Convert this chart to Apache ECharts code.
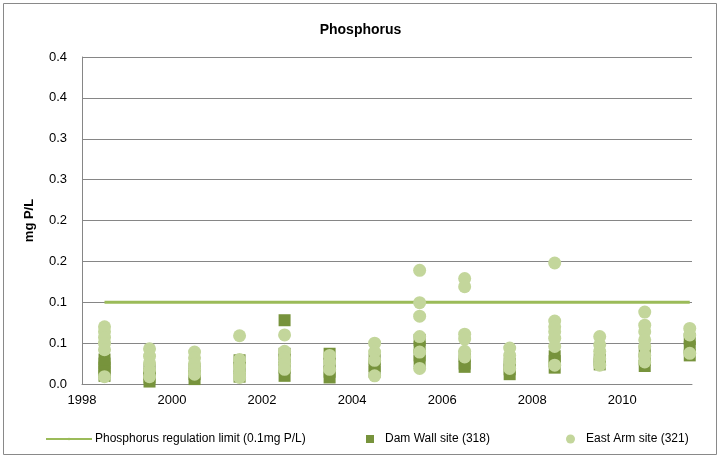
<!DOCTYPE html>
<html>
<head>
<meta charset="utf-8">
<script src="https://cdn.jsdelivr.net/npm/echarts@6/dist/echarts.min.js"></script>
<style>
  html, body { margin: 0; padding: 0; background: #fff; }
  #chart { width: 721px; height: 459px; }
</style>
</head>
<body>
<div id="chart"></div>
<script>
// sample years (x) and values (mg P/L)
const limitX = [1998.5, 2011.5];
const limitY = [0.1, 0.1];

const damX = [
  1998.5, 1998.5, 1998.5, 1998.5, 1998.5,
  1999.5, 1999.5, 1999.5, 1999.5,
  2000.5, 2000.5, 2000.5,
  2001.5, 2001.5, 2001.5,
  2002.5, 2002.5, 2002.5, 2002.5, 2002.5,
  2003.5, 2003.5, 2003.5, 2003.5,
  2004.5, 2004.5, 2004.5,
  2005.5, 2005.5, 2005.5, 2005.5,
  2006.5, 2006.5, 2006.5,
  2007.5, 2007.5, 2007.5,
  2008.5, 2008.5, 2008.5,
  2009.5, 2009.5,
  2010.5, 2010.5, 2010.5,
  2011.5, 2011.5, 2011.5
];
const damY = [
  0.010, 0.015, 0.020, 0.025, 0.030,
  0.003, 0.008, 0.012, 0.018,
  0.006, 0.012, 0.018,
  0.009, 0.020, 0.029,
  0.078, 0.037, 0.030, 0.020, 0.010,
  0.037, 0.025, 0.015, 0.008,
  0.030, 0.022, 0.015,
  0.054, 0.045, 0.035, 0.028,
  0.034, 0.025, 0.021,
  0.025, 0.018, 0.012,
  0.034, 0.028, 0.020,
  0.024, 0.030,
  0.022, 0.030, 0.040,
  0.055, 0.045, 0.035
];

const eastX = [
  1998.5, 1998.5, 1998.5, 1998.5, 1998.5, 1998.5,
  1999.5, 1999.5, 1999.5, 1999.5, 1999.5,
  2000.5, 2000.5, 2000.5, 2000.5, 2000.5,
  2001.5, 2001.5, 2001.5, 2001.5, 2001.5,
  2002.5, 2002.5, 2002.5, 2002.5, 2002.5,
  2003.5, 2003.5, 2003.5,
  2004.5, 2004.5, 2004.5, 2004.5,
  2005.5, 2005.5, 2005.5, 2005.5, 2005.5, 2005.5,
  2006.5, 2006.5, 2006.5, 2006.5, 2006.5, 2006.5,
  2007.5, 2007.5, 2007.5, 2007.5,
  2008.5, 2008.5, 2008.5, 2008.5, 2008.5, 2008.5, 2008.5,
  2009.5, 2009.5, 2009.5, 2009.5, 2009.5,
  2010.5, 2010.5, 2010.5, 2010.5, 2010.5, 2010.5, 2010.5,
  2011.5, 2011.5, 2011.5
];
const eastY = [
  0.070, 0.064, 0.057, 0.050, 0.042, 0.009,
  0.043, 0.034, 0.026, 0.017, 0.009,
  0.039, 0.032, 0.025, 0.018, 0.012,
  0.059, 0.030, 0.022, 0.014, 0.008,
  0.060, 0.040, 0.032, 0.025, 0.018,
  0.035, 0.027, 0.018,
  0.050, 0.039, 0.029, 0.010,
  0.139, 0.0995, 0.083, 0.058, 0.039, 0.019,
  0.129, 0.119, 0.061, 0.055, 0.040, 0.033,
  0.044, 0.035, 0.027, 0.019,
  0.148, 0.077, 0.070, 0.064, 0.056, 0.046, 0.023,
  0.058, 0.048, 0.040, 0.031, 0.023,
  0.088, 0.072, 0.064, 0.054, 0.046, 0.035, 0.027,
  0.068, 0.060, 0.0375
];

// Excel-style rounded tick labels for 0, 0.05, ... 0.4
const yTickLabels = ['0.0', '0.1', '0.1', '0.2', '0.2', '0.3', '0.3', '0.4', '0.4'];

const zip = (xs, ys) => xs.map((x, i) => [x, ys[i]]);
const font = '"Liberation Sans", Arial, sans-serif';

const chart = echarts.init(document.getElementById('chart'));
chart.setOption({
  animation: false,
  textStyle: { fontFamily: font },
  title: {
    text: 'Phosphorus',
    left: 'center',
    top: 18,
    textStyle: { fontSize: 14, fontWeight: 'bold', color: '#000', fontFamily: font }
  },
  graphic: [{
    type: 'rect',
    shape: { x: 3.5, y: 3.5, width: 713, height: 451 },
    style: { fill: 'none', stroke: '#898989', lineWidth: 1 },
    silent: true
  }],
  grid: { left: 82, top: 57, right: 29, bottom: 75 },
  legend: [
    {
      data: ['Phosphorus regulation limit (0.1mg P/L)'],
      left: 40, top: 428,
      itemWidth: 46, itemHeight: 3, itemGap: 4,
      textStyle: { fontSize: 12, color: '#000', fontFamily: font, padding: [0, 0, 0, -2] }
    },
    {
      data: [{ name: 'Dam Wall site (318)', icon: 'rect' }],
      left: 361, top: 428,
      itemWidth: 8, itemHeight: 8, itemGap: 4,
      textStyle: { fontSize: 12, color: '#000', fontFamily: font, padding: [0, 0, 0, 6] }
    },
    {
      data: [{ name: 'East Arm site (321)', icon: 'circle' }],
      left: 561, top: 428,
      itemWidth: 9, itemHeight: 9, itemGap: 4,
      textStyle: { fontSize: 12, color: '#000', fontFamily: font, padding: [0, 0, 0, 6] }
    }
  ],
  xAxis: {
    type: 'value',
    min: 1998,
    max: 2011.55,
    interval: 2,
    splitLine: { show: false },
    axisLine: { lineStyle: { color: '#868686' } },
    axisTick: { show: false },
    axisLabel: {
      showMaxLabel: false,
      fontSize: 13, color: '#000', margin: 10,
      formatter: v => String(Math.round(v))
    }
  },
  yAxis: {
    type: 'value',
    min: 0,
    max: 0.4,
    interval: 0.05,
    name: 'mg P/L',
    nameLocation: 'middle',
    nameGap: 46,
    nameTextStyle: { fontSize: 13, fontWeight: 'bold', color: '#000', fontFamily: font },
    axisLine: { show: true, lineStyle: { color: '#868686' } },
    axisTick: { show: false },
    splitLine: { lineStyle: { color: '#868686', width: 1 } },
    axisLabel: {
      fontSize: 13, color: '#000', margin: 15,
      formatter: v => yTickLabels[Math.round(v / 0.05)]
    }
  },
  series: [
    {
      name: 'Phosphorus regulation limit (0.1mg P/L)',
      type: 'line',
      data: zip(limitX, limitY),
      symbol: 'none',
      lineStyle: { color: '#9BBB59', width: 3 },
      itemStyle: { color: '#9BBB59' },
      z: 2
    },
    {
      name: 'Dam Wall site (318)',
      type: 'scatter',
      data: zip(damX, damY),
      symbol: 'rect',
      symbolSize: 12,
      itemStyle: { color: '#77933C', opacity: 1 },
      z: 3
    },
    {
      name: 'East Arm site (321)',
      type: 'scatter',
      data: zip(eastX, eastY),
      symbol: 'circle',
      symbolSize: 13,
      itemStyle: { color: '#C3D69B', opacity: 1 },
      z: 4
    }
  ]
});
</script>
</body>
</html>
